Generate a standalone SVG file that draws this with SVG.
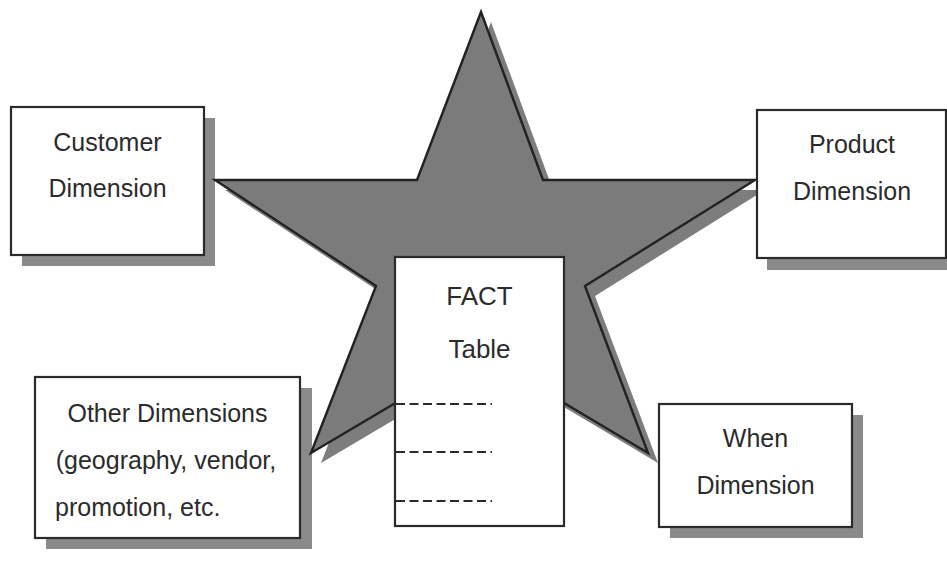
<svg xmlns="http://www.w3.org/2000/svg" width="947" height="569" viewBox="0 0 947 569">
  <style>
    .shadow { fill: #8a8a8a; }
    .box { fill: #ffffff; stroke: #2a2a2a; stroke-width: 2.2; }
    .lbl { font-family: "Liberation Sans", Arial, sans-serif; font-size: 25px; fill: #2b2b2b; text-anchor: middle; }
    .left { text-anchor: start; }
    .fact { font-size: 26px; }
    .dash { stroke: #2a2a2a; stroke-width: 2; stroke-dasharray: 9 4.5; fill: none; }
  </style>
  <rect width="947" height="569" fill="#ffffff"/>

  <!-- box shadows -->
  <g id="shadows">
    <rect class="shadow" x="22" y="118" width="193" height="148"/>
    <rect class="shadow" x="767" y="121" width="190" height="149"/>
    <rect class="shadow" x="46" y="388" width="266" height="161"/>
    <rect class="shadow" x="670" y="415" width="193" height="123"/>
  </g>

  <!-- star -->
  <g id="star">
    <polygon fill="#7d7d7d" points="491,22 553,190 765,190 595,296 658,463 490,363 321,463 386,296 225,190 427,190"/>
    <polygon fill="#7b7b7b" stroke="#222222" stroke-width="2.4" stroke-linejoin="miter" points="481,12 543,180 755,180 585,286 648,453 480,353 311,453 376,286 215,180 417,180"/>
  </g>

  <g id="customer">
    <rect class="box" x="11" y="107" width="193" height="148"/>
    <text class="lbl" x="107.5" y="151">Customer</text>
    <text class="lbl" x="107.5" y="197">Dimension</text>
  </g>

  <g id="product">
    <rect class="box" x="757" y="110" width="189" height="148"/>
    <text class="lbl" x="852" y="153">Product</text>
    <text class="lbl" x="852" y="200">Dimension</text>
  </g>

  <g id="other">
    <rect class="box" x="35" y="377" width="265" height="161"/>
    <text class="lbl" x="167.5" y="422">Other Dimensions</text>
    <text class="lbl" x="166" y="469">(geography, vendor,</text>
    <text class="lbl left" x="55" y="516">promotion, etc.</text>
  </g>

  <g id="when">
    <rect class="box" x="659" y="404" width="193" height="123"/>
    <text class="lbl" x="755.5" y="447">When</text>
    <text class="lbl" x="755.5" y="494">Dimension</text>
  </g>

  <g id="fact">
    <rect class="box" x="395" y="257" width="169" height="269"/>
    <text class="lbl fact" x="479.5" y="305">FACT</text>
    <text class="lbl fact" x="479.5" y="358">Table</text>
    <line class="dash" x1="396" y1="404" x2="492" y2="404"/>
    <line class="dash" x1="396" y1="452" x2="492" y2="452"/>
    <line class="dash" x1="396" y1="501" x2="492" y2="501"/>
  </g>
</svg>
